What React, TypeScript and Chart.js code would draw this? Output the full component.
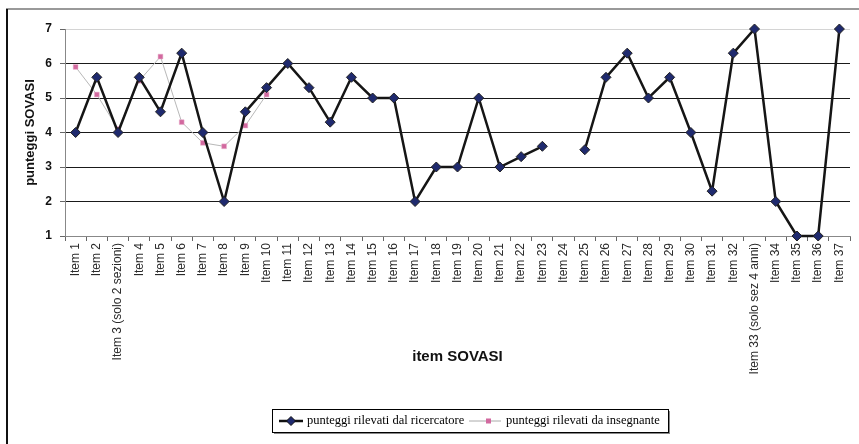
import React, { useEffect, useRef } from "react";
import { Chart, registerables } from "chart.js";

Chart.register(...registerables);

const categories: string[] = [
  "Item 1", "Item 2", "Item 3 (solo 2 sezioni)", "Item 4", "Item 5", "Item 6", "Item 7", "Item 8", "Item 9", "Item 10",
  "Item 11", "Item 12", "Item 13", "Item 14", "Item 15", "Item 16", "Item 17", "Item 18", "Item 19", "Item 20",
  "Item 21", "Item 22", "Item 23", "Item 24", "Item 25", "Item 26", "Item 27", "Item 28", "Item 29", "Item 30",
  "Item 31", "Item 32", "Item 33 (solo sez 4 anni)", "Item 34", "Item 35", "Item 36", "Item 37",
];

const ricercatore: (number | null)[] = [
  4, 5.6, 4, 5.6, 4.6, 6.3, 4, 2, 4.6, 5.3,
  6, 5.3, 4.3, 5.6, 5, 5, 2, 3, 3, 5,
  3, 3.3, 3.6, null, 3.5, 5.6, 6.3, 5, 5.6, 4,
  2.3, 6.3, 7, 2, 1, 1, 7,
];

const insegnante: (number | null)[] = [
  5.9, 5.1, 4.1, 5.5, 6.2, 4.3, 3.7, 3.6, 4.2, 5.1,
  null, null, null, null, null, null, null, null, null, null,
  null, null, null, null, null, null, null, null, null, null,
  null, null, null, null, null, null, null,
];

const seriesNames: string[] = ["punteggi rilevati dal ricercatore", "punteggi rilevati da insegnante"];
const yTicks: number[] = [1, 2, 3, 4, 5, 6, 7];

const framePlugin = {
  id: "frameAndLegend",
  beforeDraw(chart: any) {
    const ctx = chart.ctx;
    ctx.save();
    ctx.fillStyle = "#fff";
    ctx.fillRect(0, 0, chart.width, chart.height);
    ctx.strokeStyle = "#777";
    ctx.lineWidth = 1.5;
    ctx.beginPath();
    ctx.moveTo(6, 9);
    ctx.lineTo(chart.width, 9);
    ctx.stroke();
    ctx.strokeStyle = "#111";
    ctx.lineWidth = 2;
    ctx.beginPath();
    ctx.moveTo(7, 9);
    ctx.lineTo(7, chart.height);
    ctx.stroke();
    ctx.restore();
  },
  afterDraw(chart: any) {
    const ctx = chart.ctx;
    ctx.save();
    const bx = 272, by = 409, bw = 396, bh = 23;
    ctx.fillStyle = "#888";
    ctx.fillRect(bx + 2, by + 2, bw, bh);
    ctx.fillStyle = "#fff";
    ctx.fillRect(bx, by, bw, bh);
    ctx.strokeStyle = "#000";
    ctx.lineWidth = 1;
    ctx.strokeRect(bx + 0.5, by + 0.5, bw, bh);
    const cy = by + bh / 2 + 0.5;
    // entry 1
    ctx.strokeStyle = "#111";
    ctx.lineWidth = 2.5;
    ctx.beginPath();
    ctx.moveTo(279, cy);
    ctx.lineTo(303, cy);
    ctx.stroke();
    ctx.fillStyle = "#1f2a6e";
    ctx.strokeStyle = "#111";
    ctx.lineWidth = 1;
    ctx.beginPath();
    ctx.moveTo(291 - 4.5, cy);
    ctx.lineTo(291, cy - 4.5);
    ctx.lineTo(291 + 4.5, cy);
    ctx.lineTo(291, cy + 4.5);
    ctx.closePath();
    ctx.fill();
    ctx.stroke();
    ctx.fillStyle = "#000";
    ctx.font = '12.5px "Liberation Serif", "Times New Roman", serif';
    ctx.textBaseline = "middle";
    ctx.textAlign = "left";
    ctx.fillText(seriesNames[0], 307, cy);
    // entry 2
    ctx.strokeStyle = "#aaa";
    ctx.lineWidth = 1;
    ctx.beginPath();
    ctx.moveTo(469, cy);
    ctx.lineTo(501, cy);
    ctx.stroke();
    ctx.fillStyle = "#d2699f";
    ctx.fillRect(486, cy - 2.5, 5, 5);
    ctx.fillStyle = "#000";
    ctx.fillText(seriesNames[1], 506, cy);
    ctx.restore();
  },
};

export default function App() {
  const ref = useRef<HTMLCanvasElement | null>(null);
  useEffect(() => {
    if (!ref.current) return;
    const chart = new Chart(ref.current, {
      type: "line",
      data: {
        labels: categories,
        datasets: [
          {
            label: seriesNames[0],
            data: ricercatore,
            borderColor: "#151515",
            borderWidth: 2.5,
            pointStyle: "rectRot",
            pointRadius: 5,
            pointBackgroundColor: "#1f2a6e",
            pointBorderColor: "#222",
            pointBorderWidth: 1,
            spanGaps: false,
            tension: 0,
            clip: false,
          },
          {
            label: seriesNames[1],
            data: insegnante,
            borderColor: "#b8b8b8",
            borderWidth: 1,
            pointStyle: "rect",
            pointRadius: 3.4,
            pointBackgroundColor: "#d2699f",
            pointBorderColor: "#e8b0cc",
            pointBorderWidth: 0.5,
            spanGaps: false,
            tension: 0,
            clip: false,
          },
        ],
      },
      options: {
        responsive: false,
        animation: false,
        layout: { padding: { left: 12, top: 29, right: 9, bottom: 66 } },
        plugins: {
          legend: { display: false },
          tooltip: { enabled: false },
        },
        scales: {
          x: {
            type: "category",
            offset: true,
            afterFit: (s: any) => { s.height = 142; },
            grid: {
              drawOnChartArea: false,
              offset: true,
              drawTicks: true,
              tickLength: 5,
              tickColor: "#666",
            },
            border: { color: "#888", width: 1 },
            ticks: {
              autoSkip: false,
              maxRotation: 90,
              minRotation: 90,
              padding: 2,
              color: "#2a2a2a",
              font: { family: '"Liberation Sans", Arial, sans-serif', size: 12 },
            },
            title: {
              display: true,
              text: "item SOVASI",
              color: "#111",
              padding: { top: 0, bottom: 12 },
              font: { family: '"Liberation Sans", Arial, sans-serif', size: 15, weight: "bold" },
            },
          },
          y: {
            min: 1,
            max: 7,
            afterFit: (s: any) => { s.width = 53; },
            afterBuildTicks: (s: any) => { s.ticks = yTicks.map((v) => ({ value: v })); },
            grid: {
              color: (c: any) => (c.tick && c.tick.value === 7 ? "#d4d4d4" : c.tick && c.tick.value === 1 ? "rgba(0,0,0,0)" : "#1a1a1a"),
              tickColor: "#666",
              tickLength: 5,
              lineWidth: 1,
            },
            border: { color: "#888", width: 1 },
            ticks: {
              stepSize: 1,
              padding: 8,
              color: "#111",
              font: { family: '"Liberation Sans", Arial, sans-serif', size: 12, weight: "bold" },
            },
            title: {
              display: true,
              text: "punteggi SOVASI",
              color: "#111",
              padding: { top: 11, bottom: 0 },
              font: { family: '"Liberation Sans", Arial, sans-serif', size: 13, weight: "bold" },
            },
          },
        },
      },
      plugins: [framePlugin],
    });
    return () => chart.destroy();
  }, []);
  return (
    <div style={{ position: "absolute", left: 0, top: 0, width: 859, height: 444 }}>
      <canvas ref={ref} width={859} height={444} style={{ display: "block" }} />
    </div>
  );
}
